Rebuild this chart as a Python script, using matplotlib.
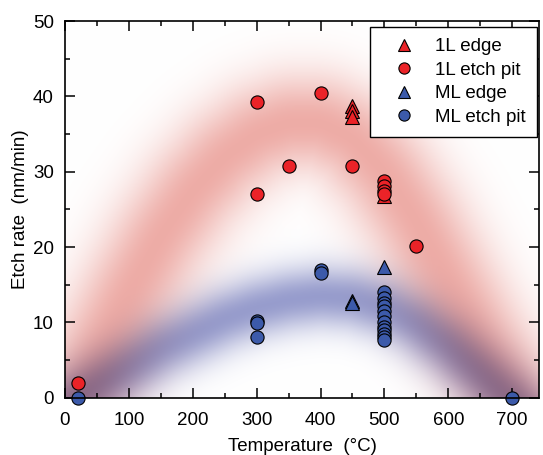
import numpy as np
import matplotlib
matplotlib.use("Agg")
import matplotlib.pyplot as plt
from matplotlib.ticker import MultipleLocator

plt.rcParams['font.family'] = ['Liberation Sans', 'DejaVu Sans']

# ---- data ----
l1_edge_T = [450, 450, 450, 500]
l1_edge_rate = [38.7, 38.0, 37.2, 26.8]

l1_pit_T = [20, 300, 300, 350, 400, 450, 500, 500, 500, 500, 550]
l1_pit_rate = [1.9, 39.3, 27.0, 30.7, 40.4, 30.7, 28.7, 28.1, 27.4, 27.0, 20.2]

ml_edge_T = [450, 450, 500]
ml_edge_rate = [12.9, 12.6, 17.3]

ml_pit_T = [20, 300, 300, 300, 400, 400,
            500, 500, 500, 500, 500, 500, 500, 500, 500, 500, 500, 500, 700]
ml_pit_rate = [0.0, 10.2, 9.9, 8.0, 16.9, 16.6,
               14.0, 13.2, 12.6, 12.2, 11.5, 10.9, 10.0, 9.4, 9.0, 8.5, 8.1, 7.7, 0.0]

# guide bands (centre lines)
band_T = [-40, 0, 20, 50, 100, 150, 200, 250, 300, 350, 400, 450, 500, 550, 600, 650, 700, 740, 780]
red_band = [-10, -3, 0, 5.5, 14, 21.5, 27.5, 32, 35, 36.5, 36.5, 34.5, 30, 23.5, 15.5, 7.5, 0.5, -5.5, -11]
blue_band = [-4, -1, 0, 1.5, 4, 6.5, 8.5, 10.5, 12, 13, 13.5, 13.2, 12, 9.8, 6.8, 3.2, -0.5, -4, -8]

xlabels = ['0', '100', '200', '300', '400', '500', '600', '700']
ylabels = ['0', '10', '20', '30', '40', '50']

XMAX, YMAX = 742, 50

fig = plt.figure(figsize=(5.43, 4.55), dpi=100)
ax = fig.add_axes([65 / 543, 1 - 397.7 / 455, (539 - 65) / 543, (397.7 - 21) / 455])

# ---- background bands ----
px_x = (539 - 65) / XMAX   # pixels per degree
px_y = (397.7 - 21) / YMAX  # pixels per unit
nx, ny = 480, 380
gx = np.linspace(0, XMAX, nx)
gy = np.linspace(0, YMAX, ny)
GX, GY = np.meshgrid(gx, gy)
Xp, Yp = GX * px_x, GY * px_y


def band_alpha(ctrl, sigma_px, amax):
    tt = np.linspace(band_T[0], band_T[-1], 500)
    vv = np.interp(tt, band_T, ctrl)
    k = np.ones(15) / 15
    vv_s = np.convolve(np.pad(vv, 7, mode='edge'), k, mode='valid')
    cx, cy = tt * px_x, vv_s * px_y
    dmin = np.full(Xp.shape, np.inf)
    for a, b in zip(cx, cy):
        d = (Xp - a) ** 2 + (Yp - b) ** 2
        np.minimum(dmin, d, out=dmin)
    return amax * np.exp(-0.5 * dmin / sigma_px ** 2)


a_r = band_alpha(red_band, 35, 0.56)
a_b = band_alpha(blue_band, 22, 0.70)
c_r = np.array([0.88, 0.42, 0.38])
c_b = np.array([0.42, 0.45, 0.72])
img = (1 - a_r[..., None] * (1 - c_r)) * (1 - a_b[..., None] * (1 - c_b))
ax.imshow(img, extent=[0, XMAX, 0, YMAX], origin='lower', aspect='auto',
          interpolation='bilinear', zorder=0)

# ---- markers ----
red = '#EB2328'
blue = '#3C5AAA'
ms = 9.5
ax.plot(l1_edge_T, l1_edge_rate, ls='none', marker='^', ms=ms, mfc=red, mec='black', mew=0.8,
        label='1L edge', zorder=3, clip_on=False)
ax.plot(l1_pit_T, l1_pit_rate, ls='none', marker='o', ms=ms, mfc=red, mec='black', mew=0.8,
        label='1L etch pit', zorder=3, clip_on=False)
ax.plot(ml_edge_T, ml_edge_rate, ls='none', marker='^', ms=ms, mfc=blue, mec='black', mew=0.8,
        label='ML edge', zorder=3, clip_on=False)
ax.plot(ml_pit_T, ml_pit_rate, ls='none', marker='o', ms=ms, mfc=blue, mec='black', mew=0.8,
        label='ML etch pit', zorder=3, clip_on=False)

ax.set_xlim(0, XMAX)
ax.set_ylim(0, YMAX)
ax.set_xticks([int(s) for s in xlabels])
ax.set_xticklabels(xlabels)
ax.set_yticks([int(s) for s in ylabels])
ax.set_yticklabels(ylabels)
ax.xaxis.set_minor_locator(MultipleLocator(50))
ax.yaxis.set_minor_locator(MultipleLocator(5))
ax.tick_params(which='both', direction='in', top=True, right=True, width=1.1,
               labelsize=13.5, colors='black')
ax.tick_params(axis='x', which='major', length=7, pad=10)
ax.tick_params(axis='y', which='major', length=7, pad=8)
ax.tick_params(which='minor', length=3.8)
for s in ax.spines.values():
    s.set_linewidth(1.2)
    s.set_zorder(5)

ax.set_xlabel('Temperature  (°C)', fontsize=13.5, labelpad=7)
ax.set_ylabel('Etch rate  (nm/min)', fontsize=13.5, labelpad=3)

leg = ax.legend(loc='upper right', fontsize=13.5, frameon=True, fancybox=False,
                edgecolor='black', framealpha=1, borderpad=0.6, labelspacing=0.34,
                handletextpad=0.45, handlelength=2.4, markerscale=0.85,
                borderaxespad=0,
                bbox_to_anchor=((537 - 65) / 474, (397.7 - 27) / 376.7))
leg.get_frame().set_linewidth(1.0)
leg.set_zorder(6)

fig.savefig('out.png', dpi=100)
